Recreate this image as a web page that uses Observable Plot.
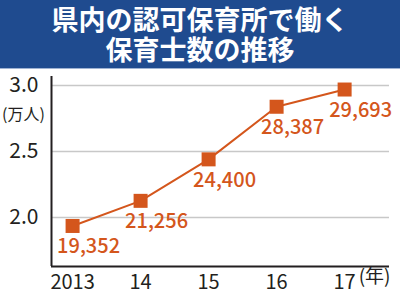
<!DOCTYPE html>
<html><head><meta charset="utf-8">
<script src="https://cdn.jsdelivr.net/npm/d3@7"></script>
<script src="https://cdn.jsdelivr.net/npm/@observablehq/plot@0.6"></script>
<style>
html,body{margin:0;padding:0;background:#fff;}
#wrap{width:400px;height:297px;overflow:hidden;font-family:"Noto Sans CJK JP",sans-serif;}
#title{height:69px;background:#1f4b8f;border-bottom:1px solid #9fb3d3;color:#fff;font-weight:700;font-size:27px;text-align:center;padding-top:4px;box-sizing:border-box;}
#title div{height:30px;line-height:30px;white-space:nowrap;}
</style></head>
<body><div id="wrap"><div id="title"><div>県内の認可保育所で働く</div><div>保育士数の推移</div></div><div id="chart"></div></div>
<script>
const years = [2013, 2014, 2015, 2016, 2017];
const workers = [19352, 21256, 24400, 28387, 29693];
const yTicks = [2.0, 2.5, 3.0];
const xTickLabels = ["2013", "14", "15", "16", "17"];
const yUnit = "(万人)";
const xUnit = "(年)";

const data = years.map((y, i) => ({year: y, value: workers[i] / 10000, raw: workers[i]}));
const orange = "#d4561c";
const xDomain = [2012.69, 2017.66];
const yDomain = [1.628, 3.068];

const chart = Plot.plot({
  width: 400, height: 227,
  marginLeft: 51, marginRight: 11, marginTop: 7, marginBottom: 30,
  style: {fontFamily: "'Noto Sans CJK JP', sans-serif", background: "#fff"},
  x: {domain: xDomain},
  y: {domain: yDomain},
  marks: [
    Plot.gridY(yTicks, {stroke: "#c8c8c8", strokeOpacity: 1, strokeWidth: 1.5}),
    Plot.axisY(yTicks, {tickSize: 0, tickPadding: 13, tickFormat: d => d.toFixed(1), fontSize: 21, color: "#231f20", label: null}),
    Plot.axisX(years, {tickSize: 0, tickPadding: 8, tickFormat: d => xTickLabels[years.indexOf(d)], fontSize: 20, color: "#231f20", label: null}),
    Plot.ruleX([xDomain[0]], {stroke: "#231f20", strokeWidth: 2}),
    Plot.ruleY([yDomain[0]], {stroke: "#231f20", strokeWidth: 2}),
    Plot.line(data, {x: "year", y: "value", stroke: orange, strokeWidth: 2}),
    Plot.dot(data, {x: "year", y: "value", symbol: "square", r: 7.9, fill: orange, stroke: null}),
    Plot.text(data, {x: "year", y: "value", text: d => d3.format(",")(d.raw), dx: 16, dy: 21, fill: orange, fontSize: 20, fontWeight: 500}),
    Plot.text([yUnit], {frameAnchor: "top-left", textAnchor: "middle", dx: -28, dy: 32, fontSize: 16, fill: "#231f20"}),
    Plot.text([xUnit], {frameAnchor: "bottom-right", textAnchor: "end", dx: 1, dy: 16, fontSize: 19, fill: "#231f20"})
  ]
});
document.getElementById("chart").appendChild(chart);
</script></body></html>
